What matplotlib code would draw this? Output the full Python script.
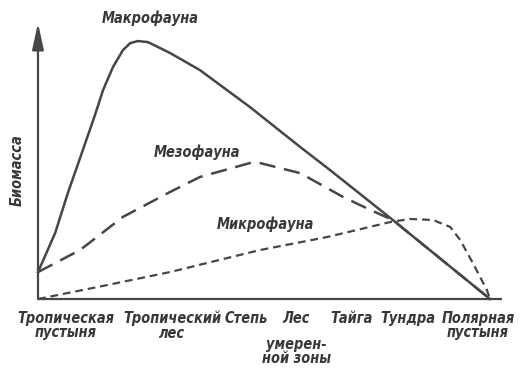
import matplotlib
matplotlib.use("Agg")
import matplotlib.pyplot as plt
from matplotlib import font_manager as fm

# Data: position along the climatic gradient (0 = tropical desert, 100 = polar desert)
macro_x = [0, 3.8, 6.6, 9.7, 12.6, 14.4, 16.6, 18.8, 20.4, 22.1, 24.3, 27.0, 29.2, 35.8, 46.9, 58.0, 64.6, 78.5, 100]
macro_y = [10.4, 25.5, 40.9, 56.4, 71.0, 80.7, 89.6, 96.1, 98.8, 99.6, 99.2, 96.9, 95.0, 88.4, 74.1, 58.7, 49.8, 30.5, 0]

meso_x = [0, 9.3, 18.8, 29.2, 35.8, 46.9, 49.1, 58.0, 67.5, 73.5, 78.5, 100]
meso_y = [10.4, 18.9, 31.7, 41.3, 47.1, 52.5, 52.5, 48.6, 39.4, 34.4, 30.5, 0]

micro_x = [0, 13.1, 29.2, 49.1, 63.9, 77.9, 82.3, 87.4, 91.2, 93.4, 96.2, 99.3, 100]
micro_y = [0, 4.6, 10.4, 18.9, 23.9, 29.7, 30.9, 30.5, 27.8, 22.8, 13.9, 3.5, 0]

categories = ["Тропическая\nпустыня", "Тропический\nлес", "Степь", "Лес",
              "Тайга", "Тундра", "Полярная\nпустыня"]
extra_label = "умерен-\nной зоны"
series_names = ["Макрофауна", "Мезофауна", "Микрофауна"]
y_label = "Биомасса"

# ---- font choice: a narrow bold italic face if one is installed ----
fname = None
pref = []
for f in fm.fontManager.ttflist:
    p = f.fname.lower()
    bold = f.weight in ("bold", 700, "heavy") or (isinstance(f.weight, int) and f.weight >= 600)
    ital = f.style in ("italic", "oblique")
    narrow = ("narrow" in p) or ("condensed" in p) or (f.stretch in ("condensed", "semi-condensed"))
    if bold and ital and narrow:
        rank = 0 if "liberation" in p else (1 if "dejavu" in p else 2)
        pref.append((rank, f.fname))
if pref:
    pref.sort()
    fname = pref[0][1]

def fprops(size):
    if fname:
        return fm.FontProperties(fname=fname, size=size)
    return fm.FontProperties(family="DejaVu Sans", style="italic", weight="bold", size=size)

W, H = 524, 371
fig = plt.figure(figsize=(W / 100, H / 100), dpi=100)
fig.patch.set_facecolor("white")

# fit the font size to the reference's text width (~97 px for "Макрофауна")
renderer = fig.canvas.get_renderer()
probe = fig.text(0, 0, "Макрофауна", fontproperties=fprops(10))
wpx = probe.get_window_extent(renderer).width
probe.remove()
fs = min(11.5, 10 * 97 / wpx)

ax_l, ax_r, ax_b, ax_t = 38, 502, 299, 23
ax = fig.add_axes([ax_l / W, 1 - ax_b / H, (ax_r - ax_l) / W, (ax_b - ax_t) / H])
xscale = 4.52   # px per unit
yscale = 2.59
ax.set_xlim(0, (ax_r - ax_l) / xscale)
ax.set_ylim(0, (ax_b - ax_t) / yscale)
ax.axis("off")

col = "#464646"
tcol = "#383838"

# axes
ax.plot([0, (ax_r - ax_l) / xscale], [0, 0], color=col, lw=1.6, clip_on=False, solid_capstyle="butt")
ax.annotate("", xy=(0, (ax_b - ax_t) / yscale), xytext=(0, 0),
            arrowprops=dict(arrowstyle="-|>,head_length=1.6,head_width=0.35", color=col, lw=1.6,
                            shrinkA=0, shrinkB=0), annotation_clip=False)

ax.plot(macro_x, macro_y, color=col, lw=1.8, solid_joinstyle="round", clip_on=False)
ax.plot(meso_x, meso_y, color=col, lw=1.8, dashes=(6.5, 3.5), clip_on=False)
ax.plot(micro_x, micro_y, color=col, lw=1.6, dashes=(3.5, 2.2), clip_on=False)

# category labels
cat_px = [66, 172, 246, 296, 352, 408, 478]
for c, px in zip(categories, cat_px):
    ax.text((px - ax_l) / xscale, -(311 - ax_b) / yscale, c, ha="center", va="top",
            fontproperties=fprops(fs), color=tcol, linespacing=0.95)
ax.text((296 - ax_l) / xscale, -(337 - ax_b) / yscale, extra_label, ha="center", va="top",
        fontproperties=fprops(fs), color=tcol, linespacing=0.95)

# series labels
lab_px = [(150, 18), (197, 152), (265, 224)]
for name, (px, py) in zip(series_names, lab_px):
    ax.text((px - ax_l) / xscale, (ax_b - py) / yscale, name, ha="center", va="center",
            fontproperties=fprops(fs), color=tcol)

fig.text(17 / W, 1 - 170 / H, y_label, rotation=90, ha="center", va="center",
         fontproperties=fprops(fs), color=tcol)

fig.savefig("out.png", dpi=100, facecolor="white")
